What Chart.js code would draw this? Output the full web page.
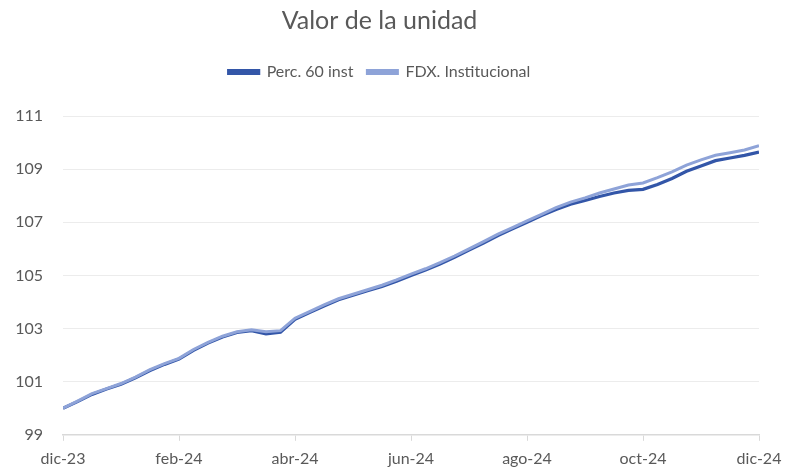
<!DOCTYPE html>
<html lang="es">
<head>
  <meta charset="UTF-8">
  <title>Valor de la unidad</title>
  <style>
    html, body { margin: 0; padding: 0; background: #fff; }
    #wrap { width: 788px; height: 471px; }
  </style>
</head>
<body>
  <div id="wrap"><canvas id="valorChart" width="788" height="471"></canvas></div>

  <script src="https://cdn.jsdelivr.net/npm/chart.js"></script>
  <script>
    // meses desde dic-23 (0 = dic-23, 12 = dic-24)
    const months = [0, 0.25, 0.5, 0.75, 1, 1.25, 1.5, 1.75, 2, 2.25, 2.5, 2.75, 3, 3.25, 3.5, 3.75,
                    4, 4.25, 4.5, 4.75, 5, 5.25, 5.5, 5.75, 6, 6.25, 6.5, 6.75, 7, 7.25, 7.5, 7.75,
                    8, 8.25, 8.5, 8.75, 9, 9.25, 9.5, 9.75, 10, 10.25, 10.5, 10.75, 11, 11.25, 11.5, 11.75, 12];
    const perc60 = [100.00, 100.25, 100.52, 100.72, 100.90, 101.15, 101.42, 101.65, 101.85, 102.18, 102.45, 102.68, 102.85, 102.92, 102.80, 102.86,
                    103.35, 103.60, 103.85, 104.08, 104.25, 104.42, 104.58, 104.78, 105.00, 105.20, 105.43, 105.68, 105.95, 106.22, 106.50, 106.75,
                    107.00, 107.25, 107.48, 107.68, 107.82, 107.97, 108.10, 108.20, 108.24, 108.42, 108.65, 108.92, 109.12, 109.32, 109.42, 109.52, 109.64];
    const fdxInst = [100.00, 100.27, 100.55, 100.74, 100.93, 101.17, 101.45, 101.68, 101.88, 102.21, 102.48, 102.71, 102.88, 102.95, 102.88, 102.92,
                     103.39, 103.64, 103.89, 104.12, 104.29, 104.46, 104.63, 104.83, 105.05, 105.25, 105.48, 105.73, 106.00, 106.27, 106.55, 106.80,
                     107.05, 107.30, 107.55, 107.76, 107.92, 108.10, 108.25, 108.40, 108.48, 108.68, 108.90, 109.15, 109.35, 109.52, 109.62, 109.72, 109.88];
    const xTickLabels = ["dic-23", "feb-24", "abr-24", "jun-24", "ago-24", "oct-24", "dic-24"];

    const gray = "#595959";
    const fontFam = "Lato, 'Open Sans', sans-serif";

    const toPoints = arr => arr.map((v, i) => ({ x: months[i], y: v }));

    // deja más aire entre la leyenda y el gráfico
    const legendGap = {
      id: 'legendGap',
      beforeInit(chart) {
        const fit = chart.legend.fit;
        chart.legend.fit = function () {
          fit.bind(chart.legend)();
          this.height += 26;
        };
      }
    };

    const ctx = document.getElementById('valorChart').getContext('2d');
    new Chart(ctx, {
      type: 'line',
      data: {
        datasets: [
          {
            label: 'Perc. 60 inst',
            data: toPoints(perc60),
            borderColor: "#3356a8",
            backgroundColor: "#3356a8",
            borderWidth: 3.2,
            pointRadius: 0,
            tension: 0,
            order: 1
          },
          {
            label: 'FDX. Institucional',
            data: toPoints(fdxInst),
            borderColor: "#8ea3d8",
            backgroundColor: "#8ea3d8",
            borderWidth: 3,
            pointRadius: 0,
            tension: 0,
            order: 0
          }
        ]
      },
      plugins: [legendGap],
      options: {
        responsive: false,
        animation: false,
        layout: { padding: { left: 0, right: 29, top: 6, bottom: -5 } },
        plugins: {
          title: {
            display: true,
            text: 'Valor de la unidad',
            color: gray,
            font: { family: fontFam, size: 25, weight: 'normal' },
            padding: { top: 0, bottom: 14 }
          },
          legend: {
            labels: {
              color: gray,
              boxWidth: 30,
              boxHeight: 3,
              font: { family: fontFam, size: 16 },
              padding: 14,
              sort: (a, b) => a.datasetIndex - b.datasetIndex
            }
          },
          tooltip: { enabled: false }
        },
        scales: {
          x: {
            type: 'linear',
            min: 0,
            max: 12,
            ticks: {
              stepSize: 2,
              color: gray,
              font: { family: fontFam, size: 16 },
              maxRotation: 0,
              padding: 8,
              callback: v => xTickLabels[v / 2]
            },
            grid: { drawOnChartArea: false, drawTicks: true, tickLength: 6, color: "#d9d9d9" },
            border: { display: true, color: "#d9d9d9", width: 1.5 },
            afterFit: s => { s.paddingRight = 0; s.paddingLeft = 0; }
          },
          y: {
            min: 99,
            max: 111,
            ticks: {
              stepSize: 2,
              color: gray,
              font: { family: fontFam, size: 16 },
              padding: 20
            },
            grid: { color: "#ececec", drawTicks: false },
            border: { display: false },
            afterFit: s => { s.width = 63; }
          }
        }
      }
    });
  </script>
</body>
</html>
